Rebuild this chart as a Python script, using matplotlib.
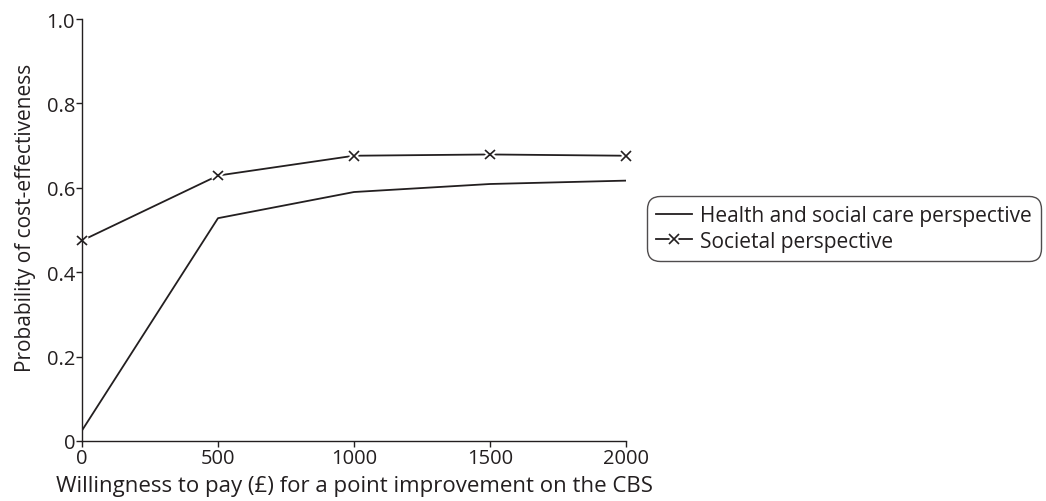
import matplotlib
matplotlib.use("Agg")
import matplotlib.pyplot as plt
import matplotlib.patheffects as pe
from matplotlib.legend_handler import HandlerTuple

plt.rcParams['font.family'] = ['Open Sans', 'DejaVu Sans']

# willingness to pay (GBP)
wtp = [0, 500, 1000, 1500, 2000]
health_social = [0.025, 0.528, 0.590, 0.609, 0.617]
societal = [0.475, 0.629, 0.676, 0.679, 0.676]

ink = '#231f20'

fig = plt.figure(figsize=(10.46, 5.02), dpi=100)
ax = fig.add_axes([82 / 1046, 1 - 442 / 502, (626 - 82) / 1046, (442 - 20) / 502])

h1, = ax.plot(wtp, health_social, color=ink, lw=1.3)
h2, = ax.plot(wtp, societal, color=ink, lw=1.3)
# white halo around the markers so the line breaks at each point
m2, = ax.plot(wtp, societal, ls='none', marker='x', ms=7, mew=1.2, color=ink, clip_on=False,
              path_effects=[pe.Stroke(linewidth=4, foreground='white'), pe.Normal()])

ax.set_xlim(0, 2000)
ax.set_ylim(0, 1.0)
ax.set_xticks([0, 500, 1000, 1500, 2000])
ax.set_yticks([0, 0.2, 0.4, 0.6, 0.8, 1.0])
ax.set_yticklabels(['0', '0.2', '0.4', '0.6', '0.8', '1.0'])
for s in ['top', 'right']:
    ax.spines[s].set_visible(False)
for s in ['left', 'bottom']:
    ax.spines[s].set_color(ink)
    ax.spines[s].set_linewidth(1.0)
ax.tick_params(colors=ink, labelsize=14.5, length=4, width=1.0, pad=1)
ax.set_xlabel('Willingness to pay (£) for a point improvement on the CBS', fontsize=16, color=ink)
ax.set_ylabel('Probability of cost-effectiveness', fontsize=15, color=ink)
ax.xaxis.set_label_coords(0.5, -0.08)
ax.yaxis.set_label_coords(-0.085, 0.53)

leg = ax.legend([h1, (h2, m2)], ['Health and social care perspective', 'Societal perspective'],
                handler_map={tuple: HandlerTuple(ndivide=1, pad=0)},
                loc='upper left', bbox_to_anchor=(647 / 1046, 1 - 197 / 502),
                bbox_transform=fig.transFigure, fontsize=15, frameon=True, fancybox=True,
                handlelength=1.7, handletextpad=0.4, borderpad=0.45, labelspacing=0.2,
                borderaxespad=0)
leg.get_frame().set_edgecolor(ink)
leg.get_frame().set_linewidth(1.0)
leg.get_frame().set_boxstyle('round', pad=0, rounding_size=0.6)
for t in leg.get_texts():
    t.set_color(ink)

fig.savefig('out.png', dpi=100)
